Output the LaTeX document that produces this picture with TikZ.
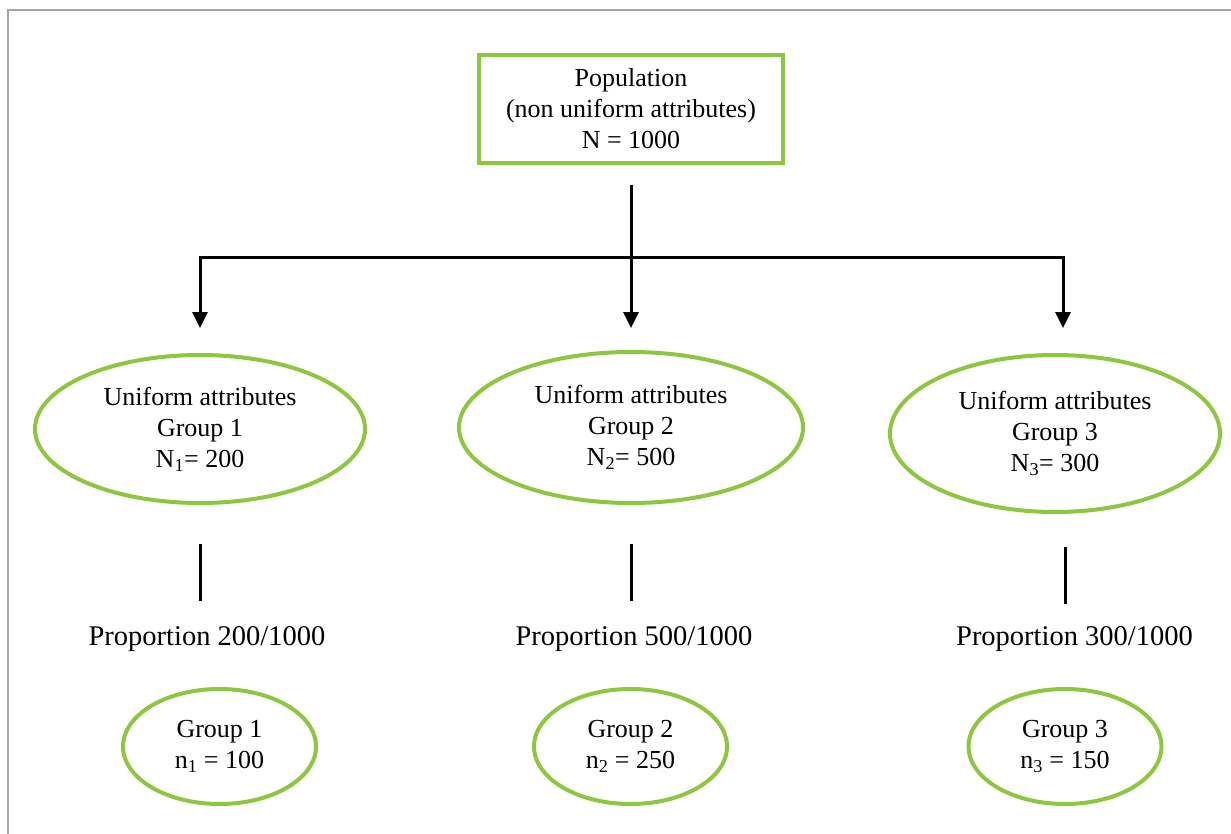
\documentclass[tikz,border=0pt]{standalone}
\usepackage{fontspec}
\setmainfont{Liberation Serif}
\usetikzlibrary{shapes.geometric,arrows.meta}

\definecolor{leafgreen}{RGB}{141,198,63}
\definecolor{framegray}{RGB}{166,166,166}

\tikzset{
    txt/.style={font=\fontsize{26}{31}\selectfont, align=center},
    popbox/.style={txt, draw=leafgreen, line width=4pt, inner sep=0pt,
        minimum width=304pt, minimum height=108pt},
    bigoval/.style={txt, ellipse, draw=leafgreen, line width=4pt, inner sep=0pt},
    smalloval/.style={bigoval, minimum width=193pt, minimum height=115pt},
    link/.style={line width=3pt},
    arrowlink/.style={link, -{Triangle[width=15pt,length=16pt]}},
    proptext/.style={font=\fontsize{28.5}{34}\selectfont, anchor=base}
}

\begin{document}
\begin{tikzpicture}[x=1pt,y=-1pt]

    \useasboundingbox (0,0) rectangle (1231,834);
    \draw[framegray, line width=2pt] (1231,10.5) -- (8,10.5) -- (8,834);

    \node[popbox] (pop) at (631,109) {Population\\(non uniform attributes)\\N = 1000};

    % split of the population into the three groups
    \coordinate (stem) at (631,185);
    \coordinate (hl) at (200,258);
    \coordinate (hr) at (1063,258);
    \coordinate (tip1) at (200,328);
    \coordinate (tip2) at (631,328);
    \coordinate (tip3) at (1063,328);
    \draw[arrowlink] (hr) -- (hl) -- (tip1);
    \draw[arrowlink] (hl) -- (hr) -- (tip3);
    \draw[arrowlink] (stem) -- (tip2);

    \foreach \x/\y/\w/\h/\t/\v in {200/429/330/148/1/200,631/427.5/344/151/2/500,1055/433.5/330/157/3/300} {
    \node[bigoval, minimum width=\w pt, minimum height=\h pt] (group\t) at (\x,\y)
        {Uniform attributes\\Group \t\\N\textsubscript{\t}= \v};}

    \foreach \x/\y/\t/\v in {200/544/1/200,631/544/2/500,1065/547/3/300} {
    \coordinate (bartop\t) at (\x,\y);
    \draw[link] (bartop\t) --++(0,57) coordinate (barbot\t);}

    \node[proptext] (prop1) at (207,645) {Proportion 200/1000};
    \node[proptext] (prop2) at (634,645) {Proportion 500/1000};
    \node[proptext] (prop3) at (1074.5,645) {Proportion 300/1000};

    \foreach \x/\t/\v in {219.5/1/100,630.5/2/250,1065/3/150} {
    \node[smalloval] (sample\t) at (\x,746.5) {Group \t\\n\textsubscript{\t} = \v};}

\end{tikzpicture}
\end{document}
